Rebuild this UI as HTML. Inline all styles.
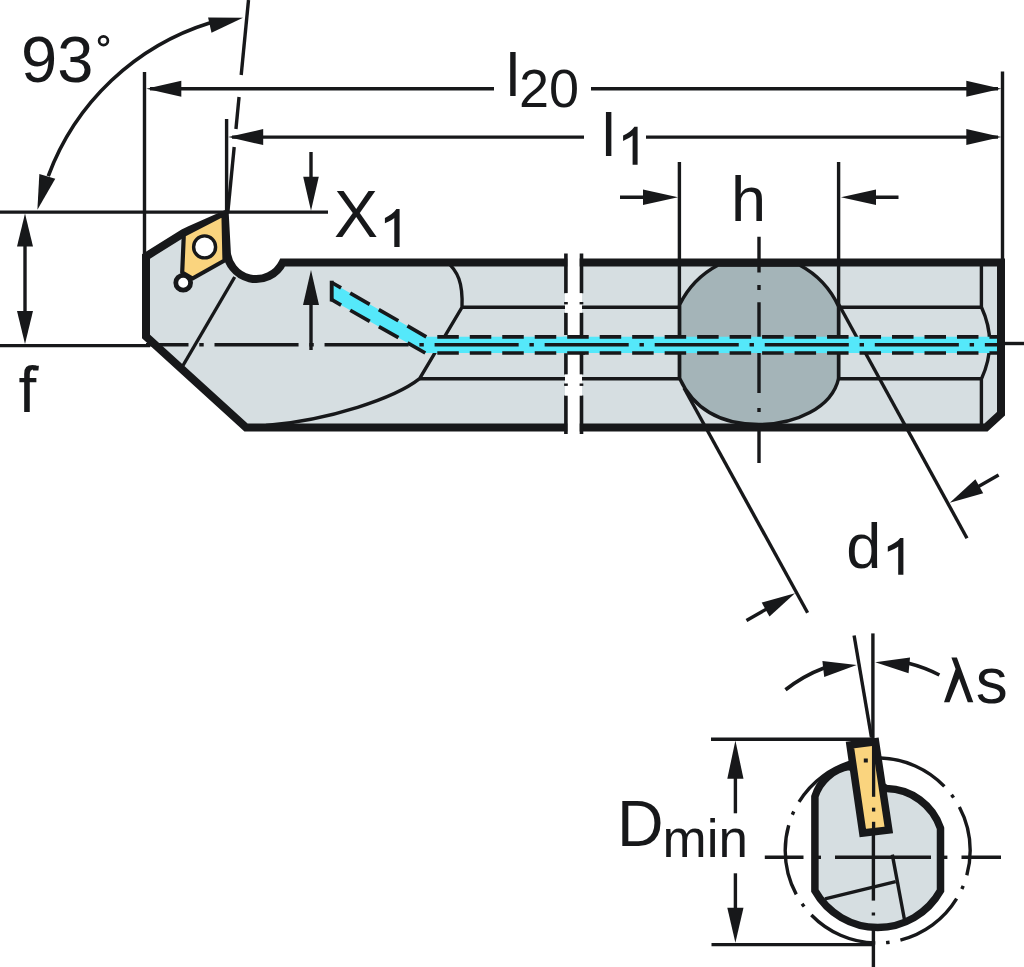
<!DOCTYPE html><html><head><meta charset="utf-8"><style>html,body{margin:0;padding:0;background:#fff;overflow:hidden}svg{display:block}</style></head><body><svg width="1024" height="967" viewBox="0 0 1024 967"><path d="M146 256.5 L183.5 233 L190 229.8 L224.8 214.5 L226.7 249.5 A29.5 29.5 0 0 0 282.7 262.5 L1001 262.5 L1001 413.7 L986 427.4 L246 427.4 L146 336.5 Z" fill="#d6dee1"/>
<line x1="234.7" y1="277" x2="183" y2="365.5" stroke="#17181a" stroke-width="3.4" />
<path d="M446 261 C458 271 463 283 462 307.3 L419.6 378.6 C395 398 330 420 266 425.5" fill="none" stroke="#17181a" stroke-width="3.4"/>
<line x1="462" y1="307.3" x2="681" y2="307.3" stroke="#17181a" stroke-width="3.4" />
<line x1="838" y1="307.3" x2="981.4" y2="307.3" stroke="#17181a" stroke-width="3.4" />
<line x1="419.6" y1="378.8" x2="681" y2="378.8" stroke="#17181a" stroke-width="3.4" />
<line x1="838" y1="378.8" x2="981.4" y2="378.8" stroke="#17181a" stroke-width="3.4" />
<path d="M981.4 262 L981.4 307 Q998 343 981.4 379 L981.4 427" fill="none" stroke="#17181a" stroke-width="3.4"/>
<path d="M679.6 304.8 A89.5 89.5 0 0 1 718.2 265 L799.5 265 A89.5 89.5 0 0 1 838.6 306.5 L838.6 378.3 C832 408 795 424.5 758.8 424.5 C725 424.5 695 412 679.6 378.3 Z" fill="#a4b4b8" stroke="#17181a" stroke-width="3.4"/>
<path d="M759 236.8V272.4 M759 285V289.9 M759 302.3V393 M759 408V412 M759 424V463" stroke="#17181a" stroke-width="3.4" fill="none"/>
<line x1="679.4" y1="162" x2="679.4" y2="380" stroke="#17181a" stroke-width="3.4" />
<line x1="838.6" y1="162" x2="838.6" y2="379" stroke="#17181a" stroke-width="3.4" />
<line x1="684" y1="388" x2="807.6" y2="612.7" stroke="#17181a" stroke-width="3.4" />
<line x1="838" y1="303" x2="967" y2="538.2" stroke="#17181a" stroke-width="3.4" />
<polygon points="331.7,282.5 426.3,336.8 999,336.8 999,353 425.3,353 331.7,299.7" fill="#55e8fa"/>
<line x1="331.7" y1="282.5" x2="426.3" y2="336.8" stroke="#17181a" stroke-width="3.7" stroke-dasharray="22.5 10.5" stroke-dashoffset="11.7"/>
<line x1="331.7" y1="299.7" x2="425.3" y2="353" stroke="#17181a" stroke-width="3.7" stroke-dasharray="22.5 10.5" stroke-dashoffset="11.7"/>
<line x1="331.7" y1="280.7" x2="331.7" y2="301.5" stroke="#17181a" stroke-width="3.9" />
<path d="M437.3 336.8H458.8M437.3 353H458.8M469.78 336.8H491.28M469.78 353H491.28M502.26 336.8H523.76M502.26 353H523.76M534.74 336.8H556.24M534.74 353H556.24M567.22 336.8H588.72M567.22 353H588.72M599.7 336.8H621.2M599.7 353H621.2M632.18 336.8H653.68M632.18 353H653.68M664.66 336.8H686.16M664.66 353H686.16M697.14 336.8H718.64M697.14 353H718.64M729.62 336.8H751.12M729.62 353H751.12M762.1 336.8H783.6M762.1 353H783.6M794.58 336.8H816.08M794.58 353H816.08M827.06 336.8H848.56M827.06 353H848.56M859.54 336.8H881.04M859.54 353H881.04M892.02 336.8H913.52M892.02 353H913.52M924.5 336.8H946M924.5 353H946M956.98 336.8H978.48M956.98 353H978.48M989.46 336.8H999M989.46 353H999" stroke="#17181a" stroke-width="3.7" fill="none"/>
<path d="M146 344.7H188.5M199.3 344.7H203.7M214.5 344.7H298.55M309.35 344.7H313.75M324.55 344.7H408.6M419.4 344.7H423.8M434.6 344.7H518.65M529.45 344.7H533.85M544.65 344.7H628.7M639.5 344.7H643.9M654.7 344.7H738.75M749.55 344.7H753.95M764.75 344.7H848.8M859.6 344.7H864M874.8 344.7H958.85M969.65 344.7H974.05M984.85 344.7H999" stroke="#17181a" stroke-width="3.6" fill="none"/>
<line x1="1001" y1="343.5" x2="1024" y2="343.5" stroke="#17181a" stroke-width="3.4" />
<rect x="567.3" y="250" width="12.4" height="186" fill="#fff"/>
<path d="M146 256.5 L183.5 233 L190 229.8 L224.8 214.5 L226.7 249.5 A29.5 29.5 0 0 0 282.7 262.5 L1001 262.5 L1001 413.7 L986 427.4 L246 427.4 L146 336.5 Z" fill="none" stroke="#17181a" stroke-width="8" stroke-linejoin="miter"/>
<rect x="567.3" y="250" width="12.4" height="186" fill="#fff"/>
<clipPath id="brk"><rect x="563" y="330" width="22" height="30"/></clipPath>
<g clip-path="url(#brk)">
<polygon points="331.7,282.5 426.3,336.8 999,336.8 999,353 425.3,353 331.7,299.7" fill="#55e8fa"/>
<line x1="331.7" y1="282.5" x2="426.3" y2="336.8" stroke="#17181a" stroke-width="3.7" stroke-dasharray="22.5 10.5" stroke-dashoffset="11.7"/>
<line x1="331.7" y1="299.7" x2="425.3" y2="353" stroke="#17181a" stroke-width="3.7" stroke-dasharray="22.5 10.5" stroke-dashoffset="11.7"/>
<line x1="331.7" y1="280.7" x2="331.7" y2="301.5" stroke="#17181a" stroke-width="3.9" />
<path d="M437.3 336.8H458.8M437.3 353H458.8M469.78 336.8H491.28M469.78 353H491.28M502.26 336.8H523.76M502.26 353H523.76M534.74 336.8H556.24M534.74 353H556.24M567.22 336.8H588.72M567.22 353H588.72M599.7 336.8H621.2M599.7 353H621.2M632.18 336.8H653.68M632.18 353H653.68M664.66 336.8H686.16M664.66 353H686.16M697.14 336.8H718.64M697.14 353H718.64M729.62 336.8H751.12M729.62 353H751.12M762.1 336.8H783.6M762.1 353H783.6M794.58 336.8H816.08M794.58 353H816.08M827.06 336.8H848.56M827.06 353H848.56M859.54 336.8H881.04M859.54 353H881.04M892.02 336.8H913.52M892.02 353H913.52M924.5 336.8H946M924.5 353H946M956.98 336.8H978.48M956.98 353H978.48M989.46 336.8H999M989.46 353H999" stroke="#17181a" stroke-width="3.7" fill="none"/>
<path d="M146 344.7H188.5M199.3 344.7H203.7M214.5 344.7H298.55M309.35 344.7H313.75M324.55 344.7H408.6M419.4 344.7H423.8M434.6 344.7H518.65M529.45 344.7H533.85M544.65 344.7H628.7M639.5 344.7H643.9M654.7 344.7H738.75M749.55 344.7H753.95M764.75 344.7H848.8M859.6 344.7H864M874.8 344.7H958.85M969.65 344.7H974.05M984.85 344.7H999" stroke="#17181a" stroke-width="3.6" fill="none"/>
</g>
<path d="M565.9 253.6V293.3M565.9 312.7V335M565.9 353.3V374.6M565.9 395.5V434" stroke="#17181a" stroke-width="3.6" fill="none"/>
<path d="M581.5 253.6V293.3M581.5 312.7V335M581.5 353.3V374.6M581.5 395.5V434" stroke="#17181a" stroke-width="3.6" fill="none"/>
<rect x="565" y="293.3" width="17" height="19.4" fill="#fff"/>
<rect x="565" y="374.6" width="17" height="20.9" fill="#fff"/>
<rect x="564.1" y="302" width="3.7" height="2.4" fill="#17181a"/>
<rect x="564.1" y="383.5" width="3.7" height="2.4" fill="#17181a"/>
<rect x="579.6" y="302" width="3.7" height="2.4" fill="#17181a"/>
<rect x="579.6" y="383.5" width="3.7" height="2.4" fill="#17181a"/>
<polygon points="223.5,214.5 183.8,235 182.2,272.5 192.5,278.5 224.5,260.5" fill="#fad47e" stroke="#17181a" stroke-width="4.2" stroke-linejoin="round"/>
<circle cx="204.6" cy="246.9" r="11" fill="#fff" stroke="#17181a" stroke-width="3.4"/>
<circle cx="183.2" cy="282.7" r="7.4" fill="#fff" stroke="#17181a" stroke-width="4.8"/>
<line x1="311" y1="300" x2="311" y2="350" stroke="#17181a" stroke-width="3.4" />
<polygon points="311,270 303,305 319,305" fill="#17181a" stroke="none" stroke-width="0" />
<line x1="144.5" y1="72" x2="144.5" y2="258" stroke="#17181a" stroke-width="3.4" />
<line x1="226.6" y1="119" x2="226.6" y2="214" stroke="#17181a" stroke-width="3.4" />
<line x1="1002.5" y1="71.5" x2="1002.5" y2="262" stroke="#17181a" stroke-width="3.4" />
<line x1="150" y1="88.8" x2="494" y2="88.8" stroke="#17181a" stroke-width="3.4" />
<line x1="591" y1="88.8" x2="998" y2="88.8" stroke="#17181a" stroke-width="3.4" />
<polygon points="146.3,88.8 181.3,96.8 181.3,80.8" fill="#17181a" stroke="none" stroke-width="0" />
<polygon points="1001.3,88.8 966.3,80.8 966.3,96.8" fill="#17181a" stroke="none" stroke-width="0" />
<line x1="232" y1="137.1" x2="584" y2="137.1" stroke="#17181a" stroke-width="3.4" />
<line x1="646" y1="137.1" x2="998" y2="137.1" stroke="#17181a" stroke-width="3.4" />
<polygon points="228.2,137.1 263.2,145.1 263.2,129.1" fill="#17181a" stroke="none" stroke-width="0" />
<polygon points="1001.3,137.1 966.3,129.1 966.3,145.1" fill="#17181a" stroke="none" stroke-width="0" />
<line x1="620" y1="197.3" x2="660" y2="197.3" stroke="#17181a" stroke-width="3.4" />
<polygon points="678,197.3 643,189.5 643,205.1" fill="#17181a" stroke="none" stroke-width="0" />
<line x1="860" y1="197.3" x2="898.5" y2="197.3" stroke="#17181a" stroke-width="3.4" />
<polygon points="841,197.3 876,205.1 876,189.5" fill="#17181a" stroke="none" stroke-width="0" />
<line x1="0" y1="212.1" x2="328" y2="212.1" stroke="#17181a" stroke-width="3.4" />
<line x1="311" y1="152" x2="311" y2="190" stroke="#17181a" stroke-width="3.4" />
<polygon points="311,210.8 318.8,176.8 303.2,176.8" fill="#17181a" stroke="none" stroke-width="0" />
<line x1="0" y1="345.6" x2="150" y2="345.6" stroke="#17181a" stroke-width="3.4" />
<line x1="25" y1="230" x2="25" y2="330" stroke="#17181a" stroke-width="3.4" />
<polygon points="25,213.5 17,246.5 33,246.5" fill="#17181a" stroke="none" stroke-width="0" />
<polygon points="25,344 33,311 17,311" fill="#17181a" stroke="none" stroke-width="0" />
<path d="M48.26 176.1 A252.4 252.4 0 0 1 210.31 22.77" fill="none" stroke="#17181a" stroke-width="3.6"/>
<polygon points="37.4,209.8 55.26,178.65 39.34,173.95" fill="#17181a" stroke="none" stroke-width="0" />
<polygon points="243,17.8 208.1,17.59 211.5,32.81" fill="#17181a" stroke="none" stroke-width="0" />
<line x1="248.5" y1="0" x2="241.2" y2="75" stroke="#17181a" stroke-width="3.4" />
<line x1="239.05" y1="97" x2="235.94" y2="129" stroke="#17181a" stroke-width="3.4" />
<line x1="234.19" y1="147" x2="227.76" y2="213" stroke="#17181a" stroke-width="3.4" />
<polygon points="795,593.2 761.7,602.61 769.5,616.59" fill="#17181a" stroke="none" stroke-width="0" />
<line x1="770" y1="607" x2="746.5" y2="620.5" stroke="#17181a" stroke-width="3.4" />
<polygon points="949.8,502.8 983.22,493.17 975.38,479.23" fill="#17181a" stroke="none" stroke-width="0" />
<line x1="975" y1="488.5" x2="998.6" y2="475" stroke="#17181a" stroke-width="3.4" />
<line x1="872.9" y1="633.4" x2="872.9" y2="739" stroke="#17181a" stroke-width="3.4" />
<line x1="854.1" y1="635.5" x2="871.5" y2="737.5" stroke="#17181a" stroke-width="3.4" />
<path d="M785.5 689.78 A141.7 141.7 0 0 1 824 667.94" fill="none" stroke="#17181a" stroke-width="3.6"/>
<path d="M908.5 663.21 A141.7 141.7 0 0 1 939.4 675" fill="none" stroke="#17181a" stroke-width="3.6"/>
<polygon points="856.7,665.1 822.37,661.05 824.23,676.95" fill="#17181a" stroke="none" stroke-width="0" />
<polygon points="875.2,662.3 908.58,673.37 910.02,657.43" fill="#17181a" stroke="none" stroke-width="0" />
<line x1="711" y1="739.2" x2="874" y2="739.2" stroke="#17181a" stroke-width="3.4" />
<line x1="711.5" y1="944.6" x2="874" y2="944.6" stroke="#17181a" stroke-width="3.4" />
<line x1="735.4" y1="775" x2="735.4" y2="813.3" stroke="#17181a" stroke-width="3.4" />
<polygon points="735.4,740.5 727.3,778.8 743.5,778.8" fill="#17181a" stroke="none" stroke-width="0" />
<line x1="735.4" y1="873.3" x2="735.4" y2="910" stroke="#17181a" stroke-width="3.4" />
<polygon points="735.4,942.8 743.5,907.8 727.3,907.8" fill="#17181a" stroke="none" stroke-width="0" />
<circle cx="877.7" cy="850.5" r="92.5" fill="none" stroke="#17181a" stroke-width="3.4" stroke-dasharray="71.37 11 3.5 11" stroke-dashoffset="46.18"/>
<path d="M814.9 890.7 L814.9 796.5 A43.8 43.8 0 0 1 849.5 766.4 L886.5 788.6 A58.1 58.1 0 0 1 940.5 828.3 L940.5 890.7 A72 72 0 0 1 814.9 890.7 Z" fill="#d6dee1" stroke="#17181a" stroke-width="7.5"/>
<line x1="764.8" y1="857.3" x2="803.5" y2="857.3" stroke="#17181a" stroke-width="3.4" />
<line x1="817" y1="857.3" x2="821" y2="857.3" stroke="#17181a" stroke-width="3.4" />
<line x1="835" y1="857.3" x2="931" y2="857.3" stroke="#17181a" stroke-width="3.4" />
<line x1="943.6" y1="857.3" x2="947.4" y2="857.3" stroke="#17181a" stroke-width="3.4" />
<line x1="961.5" y1="857.3" x2="1001" y2="857.3" stroke="#17181a" stroke-width="3.4" />
<line x1="825" y1="898.9" x2="895.7" y2="881.6" stroke="#17181a" stroke-width="3.4" />
<line x1="892.3" y1="854.6" x2="904.7" y2="920.9" stroke="#17181a" stroke-width="3.4" />
<line x1="873.4" y1="832" x2="873.4" y2="900.6" stroke="#17181a" stroke-width="3.4" />
<line x1="873.4" y1="912.5" x2="873.4" y2="915.5" stroke="#17181a" stroke-width="3.4" />
<line x1="873.4" y1="927.6" x2="873.4" y2="967" stroke="#17181a" stroke-width="3.4" />
<polygon points="850,745 875.5,741.7 888.8,830 862.8,833" fill="#fad47e" stroke="#17181a" stroke-width="7.5"/>
<line x1="873.6" y1="745" x2="873.6" y2="796.8" stroke="#17181a" stroke-width="3.3" />
<line x1="873.6" y1="807.7" x2="873.6" y2="811.5" stroke="#17181a" stroke-width="3.3" />
<line x1="873.6" y1="821.8" x2="873.6" y2="834" stroke="#17181a" stroke-width="3.3" />
<rect x="863.8" y="758.5" width="4" height="4" fill="#17181a"/>
<g font-family="Liberation Sans, sans-serif" fill="#17181a">
<text x="21.05" y="82.05" font-size="65">93</text>
<circle cx="103.5" cy="40.7" r="4.4" fill="none" stroke="#17181a" stroke-width="2.7"/>
<text x="18.56" y="412.1" font-size="64">f</text>
<path d="M33 365.8 L38.9 365.8 L38.4 370.6 L33 370.6 Z"/>
<text x="334.1" y="236.9" font-size="66">X</text>
<path d="M399.6 247.1 L399.6 209.1 L396.4 209.1 C393.6 213.09 389.9 215.56 384.9 217.92 L384.9 223.31 C389.9 221.07 392.3 219.74 394.3 217.92 L394.3 247.1 Z" fill="#17181a"/>
<text x="506" y="96" font-size="62">l</text>
<text x="519" y="106.8" font-size="54">20</text>
<text x="601.7" y="156.1" font-size="62">l</text>
<path d="M637.6 164.8 L637.6 126.8 L634.4 126.8 C631.6 130.79 628.1 133.26 623.1 135.62 L623.1 141.01 C628.1 138.77 630.6 137.44 632.6 135.62 L632.6 164.8 Z" fill="#17181a"/>
<text x="730.9" y="221.1" font-size="63">h</text>
<text x="846.3" y="567.6" font-size="63">d</text>
<path d="M903.4 574.7 L903.4 538 L900.2 538 C897.4 541.85 892.8 544.24 887.8 546.51 L887.8 551.73 C892.8 549.56 896.2 548.28 898.2 546.51 L898.2 574.7 Z" fill="#17181a"/>
<path d="M951.4 657.4 L956.9 657.4 L973.3 702.3 L967.8 702.3 L959.1 678.5 L949.5 702.3 L944 702.3 L955.6 669 Z"/>
<text x="975.7" y="702.7" font-size="64">s</text>
<text x="616.9" y="845.8" font-size="64.5">D</text>
<text x="662.6" y="857" font-size="53">min</text>
</g></svg></body></html>
